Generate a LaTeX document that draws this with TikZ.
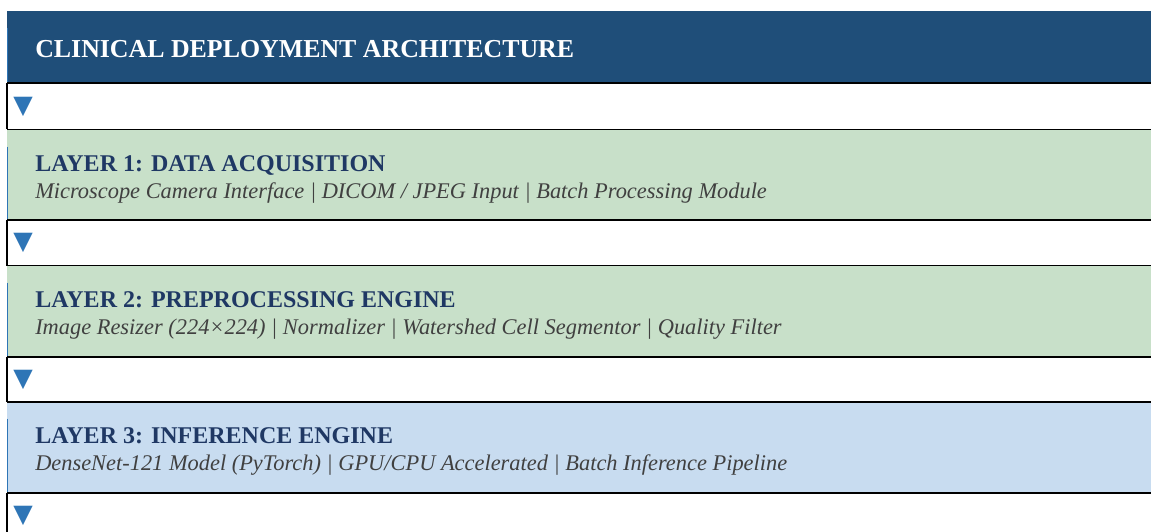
\documentclass[tikz,border=0pt]{standalone}
\usepackage{fontspec}
\setmainfont{Liberation Serif}
\newfontfamily\symfont{DejaVu Sans}
\usetikzlibrary{calc}
\definecolor{hdrblue}{HTML}{1F4E79}
\definecolor{laygreen}{RGB}{200,224,201}
\definecolor{layblue}{RGB}{200,220,240}
\definecolor{titlenavy}{HTML}{1F3864}
\definecolor{subgrey}{HTML}{404040}
\definecolor{arrowblue}{HTML}{2E75B6}

\begin{document}
\begin{tikzpicture}[x=0.75pt,y=-0.75pt,
  band/.style={rectangle,draw=none,inner sep=0pt,outer sep=0pt,anchor=north west,minimum width=858pt},
  gap/.style={band,fill=white},
  hdr/.style={anchor=base west,inner sep=0pt,font=\fontsize{19.4}{22}\selectfont\bfseries,text=white},
  ttl/.style={anchor=base west,inner sep=0pt,font=\fontsize{18}{21}\selectfont\bfseries,text=titlenavy},
  sub/.style={anchor=base west,inner sep=0pt,font=\fontsize{16.8}{20}\selectfont\itshape,text=subgrey},
  tri/.style={inner sep=0pt,font=\symfont\fontsize{19}{19}\selectfont,text=arrowblue},
  rule/.style={draw=black,line width=1.5pt},
  thin/.style={draw=black,line width=0.8pt},
  edge/.style={draw=arrowblue,line width=0.6pt}]
  \useasboundingbox (0,0) rectangle (1151,531);
  % header and layer bands
  \node[band,fill=hdrblue,minimum height=54.4pt] (hd) at (7,11) {};
  \node[band,fill=laygreen,minimum height=67.5pt] (l1) at (7,129.5) {};
  \node[band,fill=laygreen,minimum height=68.25pt] (l2) at (7,265.5) {};
  \node[band,fill=layblue,minimum height=68.25pt] (l3) at (7,401.5) {};
  \foreach \l in {hd,l1,l2,l3}
    \draw[edge] ($(\l.north west)+(0.5,17)$) -- ($(\l.south west)+(0.5,0)$);
  % white arrow rows
  \foreach \w/\yy/\hh in {w1/83.5/34.5pt,w2/219.5/34.5pt,w3/356.5/33.75pt,w4/492.5/30pt}
    \node[gap,minimum height=\hh] (\w) at (7,\yy) {};
  \foreach \w in {w1,w2,w3,w4} {
    \draw[rule] (\w.north west) -- (\w.north east);
    \draw[thin] (\w.north west) -- (\w.south west); }
  \draw[thin] (w1.south west) -- (w1.south east);
  \draw[thin] (w2.south west) -- (w2.south east);
  \draw[rule] (w3.south west) -- (w3.south east);
  \foreach \w/\a in {w1/a1,w2/a2,w3/a3,w4/a4}
    \node[tri] (\a) at ($(\w.north west)+(16,23.5)$) {▼};
  % texts
  \node[hdr] (hdtxt) at (35,58) {CLINICAL DEPLOYMENT ARCHITECTURE};
  \node[ttl] (t1) at (35,171.5) {LAYER 1: DATA ACQUISITION};
  \node[sub] (s1) at (35,198.5) {Microscope Camera Interface | DICOM / JPEG Input | Batch Processing Module};
  \node[ttl] (t2) at (35,307) {LAYER 2: PREPROCESSING ENGINE};
  \node[sub] (s2) at (35,334.5) {Image Resizer (224×224) | Normalizer | Watershed Cell Segmentor | Quality Filter};
  \node[ttl] (t3) at (35,443) {LAYER 3: INFERENCE ENGINE};
  \node[sub] (s3) at (35,470) {DenseNet-121 Model (PyTorch) | GPU/CPU Accelerated | Batch Inference Pipeline};
\end{tikzpicture}
\end{document}
